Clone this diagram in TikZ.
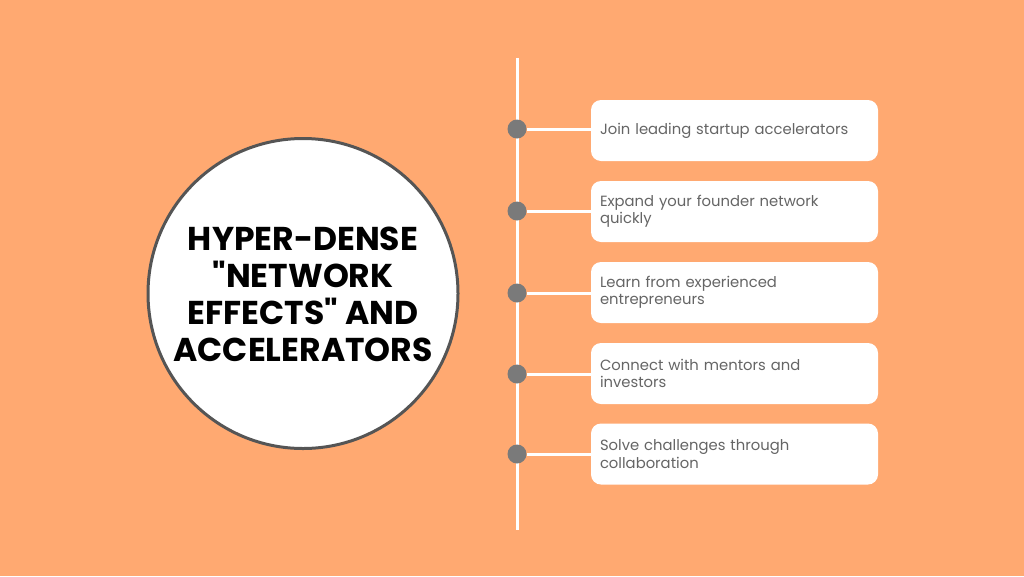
\documentclass[tikz,border=0pt]{standalone}
\usepackage{fontspec}
\setmainfont{Poppins}
\newfontfamily\titlefont{Poppins}[UprightFont=* Bold]
\definecolor{bg}{HTML}{FFA971}
\definecolor{dotgray}{HTML}{7A7A7A}
\definecolor{txtgray}{HTML}{656565}
\definecolor{ringgray}{HTML}{555555}
\begin{document}
\begin{tikzpicture}[x=1pt,y=-1pt,
  itembox/.style={draw=none, fill=white, rounded corners=10pt, minimum width=287pt, minimum height=61pt,
    text width=269pt, align=left, inner sep=0pt, font=\fontsize{14.8}{17.5}\selectfont, text=txtgray},
  tdot/.style={circle, fill=dotgray, minimum size=19pt, inner sep=0pt},
  link/.style={white, line width=3pt}]
\fill[bg] (0,0) rectangle (1024,576);
\useasboundingbox (0,0) rectangle (1024,576);
\node[circle, draw=ringgray, line width=3pt, fill=white, minimum size=310pt, inner sep=0pt] (c) at (303,293.5) {};
\node[font=\titlefont\fontsize{33}{37}\selectfont, align=center, text=black] (t) at (303,294) {HYPER-DENSE\\"NETWORK\\EFFECTS" AND\\ACCELERATORS};
\coordinate (top) at (517,58);
\coordinate (bot) at (517,530);
\draw[link] (top) -- (bot);
\node[itembox] (b1) at (734.5,130.5) {Join leading startup accelerators};
\node[itembox] (b2) at (734.5,211.5) {Expand your founder network\\quickly};
\node[itembox] (b3) at (734.5,292.5) {Learn from experienced\\entrepreneurs};
\node[itembox] (b4) at (734.5,373.5) {Connect with mentors and\\investors};
\node[itembox] (b5) at (734.5,454) {Solve challenges through\\collaboration};
\foreach \i/\yy in {1/129,2/211,3/293,4/374,5/454}{
  \node[tdot] (d\i) at (517,\yy) {};
  \draw[link] (d\i) -- (b\i.west |- d\i);
}
\end{tikzpicture}
\end{document}
